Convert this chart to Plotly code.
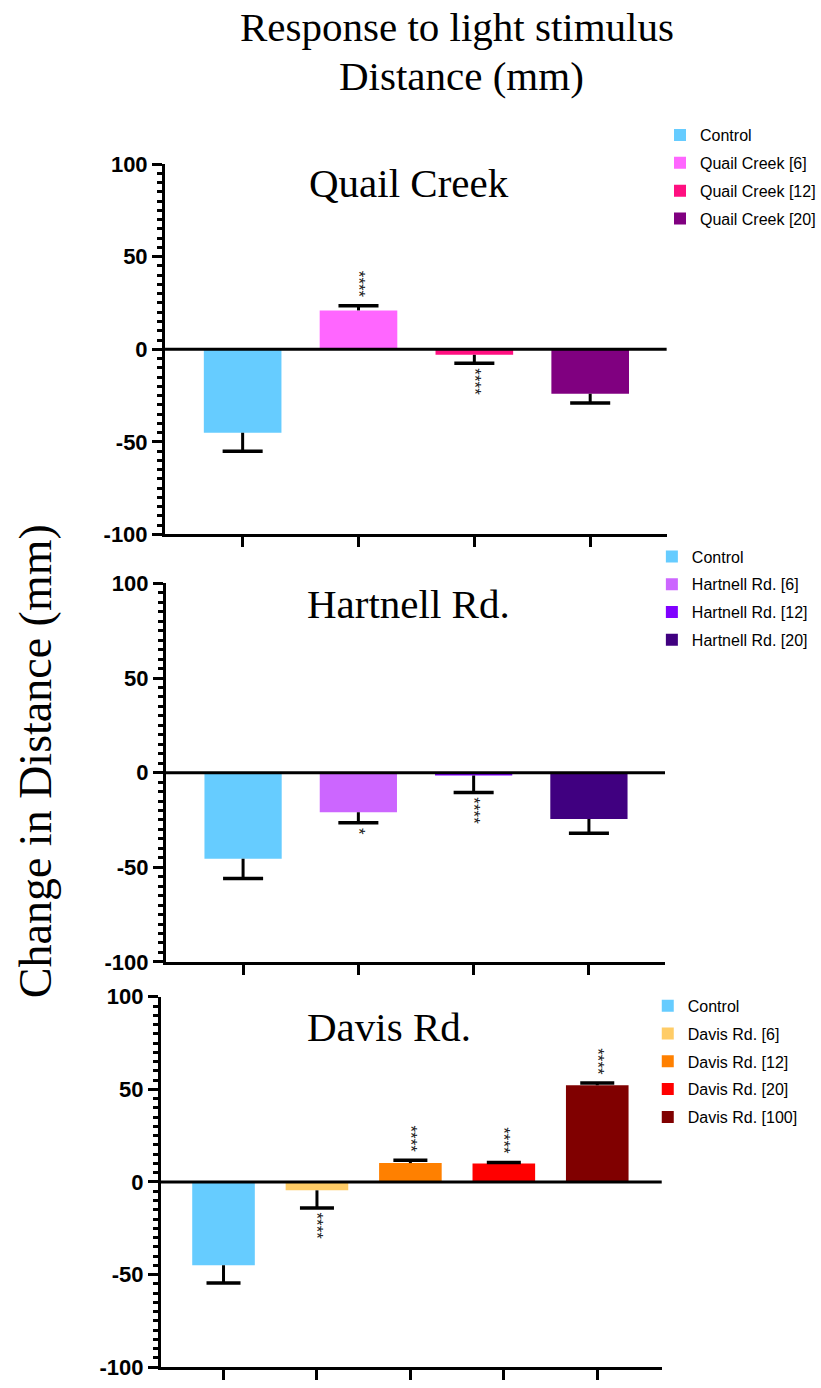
import plotly.graph_objects as go

# ---------------- data ----------------
quail_labels = ["Control", "Quail Creek [6]", "Quail Creek [12]", "Quail Creek [20]"]
quail_means = [-45, 21, -3, -24]
quail_err = [10, 2.5, 4.5, 5]
quail_sig = ["", "****", "****", ""]
quail_colors = ["#66CCFF", "#FF66FF", "#FF0F80", "#800080"]

hartnell_labels = ["Control", "Hartnell Rd. [6]", "Hartnell Rd. [12]", "Hartnell Rd. [20]"]
hartnell_means = [-45.5, -21, -1.5, -24.5]
hartnell_err = [10.5, 5.5, 9, 7.5]
hartnell_sig = ["", "*", "****", ""]
hartnell_colors = ["#66CCFF", "#CC66FF", "#8000FF", "#400080"]

davis_labels = ["Control", "Davis Rd. [6]", "Davis Rd. [12]", "Davis Rd. [20]", "Davis Rd. [100]"]
davis_means = [-45, -4.5, 10.2, 10, 52.3]
davis_err = [9.5, 9.5, 1.5, 0.5, 1.2]
davis_sig = ["", "****", "****", "****", "****"]
davis_colors = ["#66CCFF", "#FFCC66", "#FF8000", "#FF0000", "#800000"]

y_tickvals = [-100, -50, 0, 50, 100]
y_ticktext = ["-100", "-50", "0", "50", "100"]

title_lines = ["Response to light stimulus", "Distance (mm)"]
y_title = "Change in Distance (mm)"
panel_titles = ["Quail Creek", "Hartnell Rd.", "Davis Rd."]

SERIF = "Liberation Serif"
SANS = "Liberation Sans"
H = 1388


def Y(px):
    # convert a target pixel row into a paper fraction (calibrated to the renderer)
    v = 1 - ((px - 11.7) / 0.9835) / H
    return min(1.0, max(0.0, v))


fig = go.Figure()

panels = [
    dict(labels=quail_labels, means=quail_means, err=quail_err, sig=quail_sig, colors=quail_colors,
         xa="x", ya="y", legend="legend", xdom=[0.2010, 0.812], ydom=[Y(535), Y(164)],
         xr=[-0.67, 3.66], cap=28.6),
    dict(labels=hartnell_labels, means=hartnell_means, err=hartnell_err, sig=hartnell_sig, colors=hartnell_colors,
         xa="x2", ya="y2", legend="legend2", xdom=[0.2020, 0.810], ydom=[Y(963), Y(584)],
         xr=[-0.67, 3.66], cap=28.6),
    dict(labels=davis_labels, means=davis_means, err=davis_err, sig=davis_sig, colors=davis_colors,
         xa="x3", ya="y3", legend="legend3", xdom=[0.1960, 0.806], ydom=[Y(1369), Y(998)],
         xr=[-0.67, 4.69], cap=24.3),
]

annotations = []
shapes = []
star_font = dict(family=SANS, size=17, color="#222222")
for p in panels:
    cap_y = []
    for lab, m, e, s, c in zip(p["labels"], p["means"], p["err"], p["sig"], p["colors"]):
        if m >= 0:
            ey = dict(type="data", symmetric=False, array=[e], arrayminus=[0])
            cap_y.append(m + e)
        else:
            ey = dict(type="data", symmetric=False, array=[0], arrayminus=[e])
            cap_y.append(m - e)
        ey.update(color="black", thickness=3, width=0)
        fig.add_trace(go.Bar(
            x=[lab], y=[m], name=lab, marker=dict(color=c, line=dict(width=0)),
            width=0.67, error_y=ey, xaxis=p["xa"], yaxis=p["ya"],
            legend=p["legend"], legendgroup=p["legend"] + lab,
        ))
        if s:
            if m >= 0:
                annotations.append(dict(x=lab, y=m + e, xref=p["xa"], yref=p["ya"], text=s,
                                        textangle=90, showarrow=False, yanchor="bottom",
                                        yshift=6, font=star_font))
            else:
                annotations.append(dict(x=lab, y=m - e, xref=p["xa"], yref=p["ya"], text=s,
                                        textangle=90, showarrow=False, yanchor="top",
                                        yshift=-3, font=star_font))
    # error-bar caps (only on the outer end)
    fig.add_trace(go.Scatter(
        x=p["labels"], y=cap_y, mode="markers", xaxis=p["xa"], yaxis=p["ya"], showlegend=False,
        hoverinfo="skip",
        marker=dict(symbol="line-ew", size=p["cap"], color="black", line=dict(width=3.5, color="black")),
    ))
    shapes.append(dict(type="line", xref=p["xa"] + " domain", yref=p["ya"], x0=0, x1=1, y0=0, y1=0,
                       line=dict(color="black", width=3), layer="above"))

layout = dict(
    width=821, height=H, margin=dict(l=0, r=0, t=0, b=0),
    paper_bgcolor="white", plot_bgcolor="white", barmode="overlay", showlegend=True,
)

for k, p in enumerate(panels, start=1):
    suf = "" if k == 1 else str(k)
    layout["xaxis" + suf] = dict(
        domain=p["xdom"], anchor="y" + suf, range=p["xr"], type="category",
        showline=True, linewidth=3, linecolor="black", ticks="outside", ticklen=10,
        tickwidth=3, tickcolor="black", showticklabels=False, showgrid=False, zeroline=False,
        fixedrange=True,
    )
    layout["yaxis" + suf] = dict(
        domain=p["ydom"], anchor="x" + suf, range=[-100, 100],
        tickmode="array", tickvals=y_tickvals, ticktext=y_ticktext,
        showline=True, linewidth=3, linecolor="black", ticks="outside", ticklen=10,
        tickwidth=3, tickcolor="black", showgrid=False, zeroline=False,
        tickfont=dict(family=SANS, size=22, color="black", weight="bold"),
        minor=dict(tickmode="linear", tick0=0, dtick=5, ticks="outside", ticklen=5,
                   tickwidth=2.5, tickcolor="black", showgrid=False),
        ticklabelstandoff=0,
    )

legend_common = dict(font=dict(family=SANS, size=16, color="black"), bgcolor="rgba(0,0,0,0)",
                     xanchor="left", yanchor="top", tracegroupgap=4, traceorder="grouped",
                     itemclick=False, itemdoubleclick=False)
layout["legend"] = dict(legend_common, x=0.804, y=Y(118))
layout["legend2"] = dict(legend_common, x=0.794, y=Y(540))
layout["legend3"] = dict(legend_common, x=0.789, y=Y(990))

serif41 = dict(family=SERIF, size=41, color="black")
annotations += [
    dict(text=title_lines[0], x=457 / 821, y=Y(27), xref="paper", yref="paper", showarrow=False,
         xanchor="center", yanchor="middle", font=serif41),
    dict(text=title_lines[1], x=461 / 821, y=Y(76), xref="paper", yref="paper", showarrow=False,
         xanchor="center", yanchor="middle", font=serif41),
    dict(text=y_title, x=35 / 821, y=Y(762), xref="paper", yref="paper", showarrow=False,
         textangle=-90, xanchor="center", yanchor="middle", font=dict(family=SERIF, size=46, color="black")),
    dict(text=panel_titles[0], x=409 / 821, y=Y(183), xref="paper", yref="paper", showarrow=False,
         xanchor="center", yanchor="middle", font=serif41),
    dict(text=panel_titles[1], x=408 / 821, y=Y(605), xref="paper", yref="paper", showarrow=False,
         xanchor="center", yanchor="middle", font=serif41),
    dict(text=panel_titles[2], x=389 / 821, y=Y(1028), xref="paper", yref="paper", showarrow=False,
         xanchor="center", yanchor="middle", font=serif41),
]
layout["annotations"] = annotations
layout["shapes"] = shapes

fig.update_layout(**layout)
fig.write_html("out.html")
